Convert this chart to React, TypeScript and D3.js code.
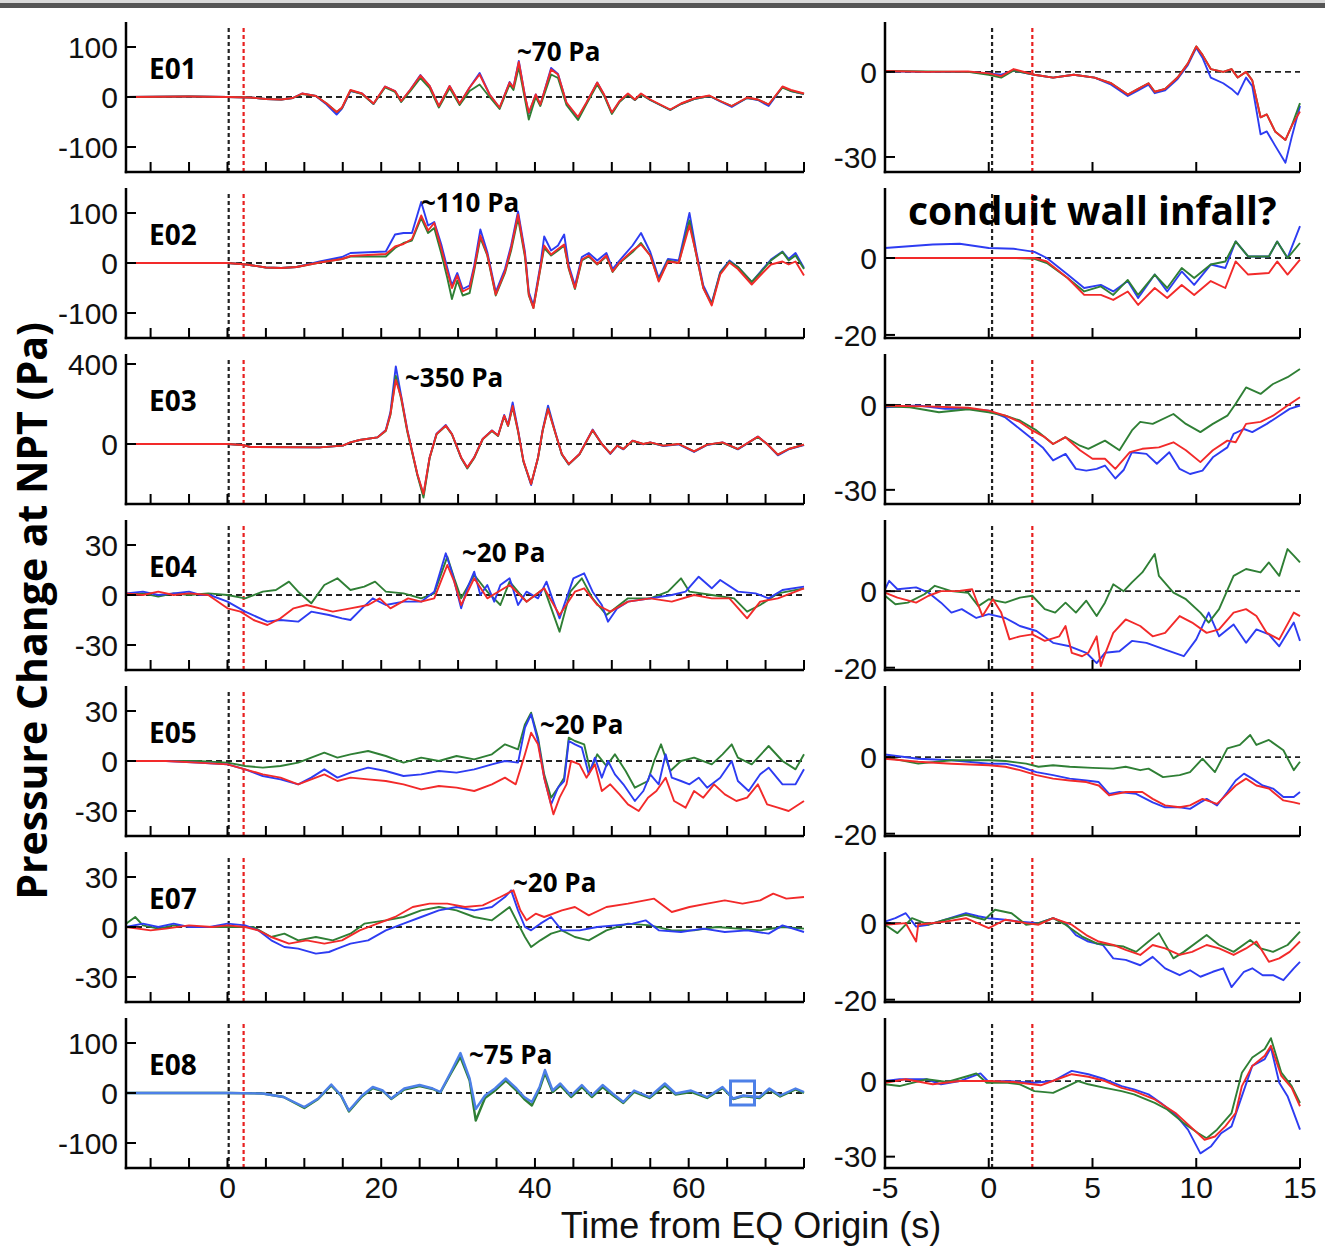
import React from "react";
import * as d3 from "d3";

type P = [number, number];
const zip = (t: number[], v: number[]): P[] => t.map((x, i) => [x, v[i]]);

// ---------------- axes / ticks ----------------
const leftXDomain: [number, number] = [-13.2, 75];
const rightXDomain: [number, number] = [-5, 15];
const leftXTicks = [-10, -5, 0, 5, 10, 15, 20, 25, 30, 35, 40, 45, 50, 55, 60, 65, 70, 75];
const leftXLabels = [0, 20, 40, 60];
const rightXTicks = [-5, 0, 5, 10, 15];
const rightXLabels = [-5, 0, 5, 10, 15];
const eqOriginT = 0.16;
const arrivalT = 2.1;

const panelNames = ["E01", "E02", "E03", "E04", "E05", "E07", "E08"];
const leftYDomains: [number, number][] = [[-150, 150], [-150, 150], [-300, 450], [-45, 45], [-45, 45], [-45, 45], [-150, 150]];
const leftYTicks = [[-100, 0, 100], [-100, 0, 100], [0, 400], [-30, 0, 30], [-30, 0, 30], [-30, 0, 30], [-100, 0, 100]];
const rightYDomains: [number, number][] = [[-35.3, 17.6], [-20.8, 18.2], [-35, 18], [-20.6, 18.6], [-20.6, 18.6], [-20.6, 18.6], [-34.5, 25]];
const rightYTicks = [[-30, 0], [-20, 0], [-30, 0], [-20, 0], [-20, 0], [-20, 0], [-30, 0]];
const peakNotes = ["~70 Pa", "~110 Pa", "~350 Pa", "~20 Pa", "~20 Pa", "~20 Pa", "~75 Pa"];

// ---------------- E01 ----------------
const e01T = [-13.2, -5, 0, 3, 5, 7, 8.5, 9.7, 11.5, 12.9, 14.2, 14.9, 16, 17.5, 19, 20.5, 21.8, 22.6, 23.8, 25.1, 26.3, 27.5, 28.9, 30.2, 31.5, 32.8, 34.1, 35.4, 36.7, 37.2, 37.9, 38.7, 39.2, 40.1, 40.7, 42.1, 43, 44.1, 45.6, 46.7, 48.1, 49, 50, 51, 52.1, 53, 53.8, 55, 57.6, 59, 60.7, 62.7, 64.1, 65.6, 67.6, 69, 70.4, 72.2, 73.3, 75];
const e01R = [0, 1, 0, -1, -4, -5, -2, 7, 2, -13, -30, -21, 14, 7, -13, 21, 12, -8, 15, 43, 22, -18, 22, -13, 19, 45, 5, -21, 29, 19, 70, 2, -31, 5, -15, 55, 45, -11, -40, -11, 29, 5, -31, -8, 7, -5, 7, -5, -25, -13, -3, 3, -8, -18, -1, -5, -15, 21, 14, 7];
const e01B = [0, 1, 0, -1, -4, -5, -2, 7, 2, -15, -35, -23, 12, 7, -14, 21, 12, -9, 15, 44, 22, -19, 22, -14, 19, 48, 5, -22, 30, 19, 72, 2, -33, 5, -16, 58, 46, -12, -42, -12, 29, 4, -32, -9, 6, -6, 6, -6, -26, -14, -4, 2, -9, -20, -2, -6, -18, 20, 12, 6];
const e01G = [0, 1, 0, -1, -4, -5, -2, 6, 2, -13, -30, -22, 13, 6, -14, 19, 10, -10, 12, 38, 18, -21, 18, -16, 12, 25, 0, -24, 25, 14, 60, -4, -45, 0, -18, 45, 38, -16, -46, -14, 25, 2, -34, -10, 5, -6, 5, -6, -26, -14, -4, 2, -8, -18, -2, -5, -15, 19, 12, 6];

// ---------------- E02 ----------------
const e02T = [-13.2, 0, 2.5, 5, 7, 9, 12, 14.9, 16, 20.6, 21.8, 22.9, 24, 25.2, 26.1, 26.9, 27.8, 28.6, 29.2, 29.9, 30.6, 31.5, 32.1, 32.9, 33.8, 34.9, 36.1, 36.9, 37.8, 38.7, 39.2, 39.8, 40.7, 41.2, 42.1, 43, 43.8, 44.4, 45.2, 46.1, 47, 48.1, 49.3, 50.1, 51, 52.7, 53.8, 55, 56.1, 57.3, 58.7, 60.1, 61, 61.9, 63, 64.1, 65.3, 66.4, 68.2, 69.3, 70.7, 72.2, 73, 73.9, 75];
const e02R = [0, 0, -3, -9, -10, -8, 1, 8, 14, 18, 33, 38, 48, 95, 65, 80, 30, -17, -50, -25, -57, -50, -10, 55, 17, -63, -17, 30, 97, 17, -63, -90, -10, 35, 17, 28, 37, -10, -50, 7, 15, -2, 15, -17, 1, 25, 37, 15, -37, 3, 0, 75, 17, -50, -85, -23, 1, -12, -43, -25, -3, 3, -3, 3, -25];
const e02B = [0, 0, -3, -9, -10, -8, 3, 12, 20, 23, 57, 60, 60, 122, 75, 82, 38, -10, -45, -20, -52, -45, -5, 67, 22, -58, -12, 35, 103, 22, -58, -85, -5, 53, 25, 35, 57, -5, -45, 12, 20, 5, 20, -12, 5, 35, 60, 22, -30, 8, 5, 100, 22, -45, -80, -18, 5, -8, -38, -18, 7, 23, 8, 20, -10];
const e02G = [0, 0, -3, -9, -10, -8, 1, 8, 13, 13, 30, 40, 45, 90, 60, 70, 20, -30, -72, -35, -65, -60, -15, 50, 15, -65, -20, 25, 90, 12, -65, -90, -12, 30, 15, 25, 35, -12, -52, 5, 13, -3, 13, -18, 0, 22, 40, 15, -35, 5, 0, 85, 15, -50, -82, -20, 3, -8, -38, -20, 5, 22, 5, 15, -12];

// ---------------- E03 ----------------
const e03T = [-13.2, 0, 2, 3, 12, 15, 16, 17.2, 19.5, 20.6, 21.2, 21.9, 22.6, 23.4, 24.1, 24.7, 25.5, 26.3, 27.2, 28.4, 29.2, 30.4, 31.2, 32.1, 33.2, 34.4, 35.2, 36, 36.5, 37.1, 37.8, 38.5, 39.5, 40.4, 41, 41.7, 42.7, 43.5, 44.4, 45.8, 47.5, 48.7, 49.8, 50.7, 51.5, 52.7, 54.1, 55, 56.7, 58.7, 60.7, 62.4, 64.4, 66.4, 69, 70.2, 71.6, 73, 75];
const e03R = [0, 0, -5, -15, -17, -8, 8, 20, 33, 67, 150, 320, 233, 67, -50, -150, -250, -67, 50, 92, 50, -67, -117, -67, 25, 67, 42, 142, 92, 190, 67, -83, -200, -67, 67, 175, 50, -50, -100, -50, 70, 0, -47, -8, -25, 17, 0, 8, -8, 0, -37, -3, 8, -25, 37, 0, -53, -25, -3];
const e03B = [0, 0, -5, -15, -17, -8, 8, 20, 33, 70, 160, 388, 240, 70, -50, -152, -255, -67, 52, 95, 50, -69, -119, -67, 25, 68, 42, 145, 95, 208, 70, -85, -205, -67, 70, 192, 52, -52, -102, -50, 72, 0, -50, -8, -27, 17, -2, 8, -10, -2, -40, -5, 8, -27, 37, 0, -57, -27, -5];
const e03G = [0, 0, -5, -15, -17, -8, 8, 20, 33, 65, 145, 340, 225, 60, -55, -155, -268, -70, 48, 90, 48, -70, -122, -70, 23, 65, 40, 138, 90, 185, 62, -88, -200, -70, 65, 178, 48, -52, -102, -52, 68, 0, -47, -8, -25, 15, 0, 6, -8, 0, -37, -3, 6, -25, 35, 0, -53, -25, -3];

// ---------------- E04 ----------------
const e04B: P[] = [[-13.2, 1], [-11, 2], [-9, 0], [-7, 1], [-5, 2], [-3.5, 0], [-2.3, 0], [0, -4], [2.3, -10], [5.2, -16], [6.9, -15], [9.2, -16], [10.9, -10], [13.2, -12], [14.9, -14], [16, -15], [17.5, -8], [18.9, -2], [20.6, -6], [22.9, -4], [25.2, -4], [26.9, 2], [28.4, 25], [29.3, 12], [30.4, -8], [31.2, 4], [32.1, 14], [32.9, 0], [33.8, 6], [34.7, -4], [35.5, 6], [36.7, 10], [37.8, -6], [38.9, 2], [40.4, -2], [41.5, 8], [42.4, -4], [43.2, -14], [44.1, -2], [45, 10], [46.4, 13], [47.5, 2], [48.7, -6], [49.5, -16], [50.7, -8], [52.1, -4], [55, -2], [57.8, 0], [59.6, 2], [61.3, 11], [63, 4], [64.1, 9], [66.4, 2], [68.7, 1], [70.4, -2], [72.2, 3], [75, 5]];
const e04G: P[] = [[-13.2, 0], [-11, 1], [-9, -1], [-7, 1], [-5, 0], [-2.5, 1], [0, 0], [2.3, -2], [4.6, 2], [6.3, 3], [8, 8], [9.2, 2], [10.9, -5], [12.6, 6], [14.3, 10], [16, 3], [17.8, 5], [19.2, 8], [20.6, 2], [22.9, 1], [25.2, -2], [26.9, 1], [28.6, 23], [29.5, 10], [30.4, -2], [32.1, 12], [33.8, 2], [35.5, -6], [36.7, 8], [38.9, -4], [41.2, 4], [43.2, -22], [44.6, 2], [46.1, 10], [47.5, -2], [49.3, -12], [52.1, -2], [55, -2], [57.3, 2], [59, 10], [60.1, 2], [63, 0], [65.9, -2], [67.6, -10], [69.3, -6], [71.6, 1], [75, 4]];
const e04R: P[] = [[-13.2, 1], [-11, 0], [-9, 2], [-7, 0], [-5, 1], [-2.5, 0], [0, -8], [1.7, -10], [3.4, -15], [5.2, -18], [6.9, -14], [8.6, -8], [10.3, -6], [12, -8], [13.7, -10], [16, -8], [18.3, -6], [19.8, -2], [21.2, -8], [23.5, -2], [25.2, -4], [26.9, -2], [28.6, 18], [29.5, 8], [30.4, -6], [32.1, 10], [33.8, -2], [36.7, 6], [38.9, -4], [41.2, 4], [43.2, -12], [45.2, 2], [46.4, 4], [48.1, -6], [49.8, -10], [52.1, -4], [55, -2], [57.8, -4], [60.7, 0], [63, -2], [65.3, -2], [67.6, -14], [69.3, -4], [71.6, -2], [75, 4]];

// ---------------- E05 ----------------
const e05B: P[] = [[-13.2, 0], [-8, 0], [-4, -1], [0, -2], [2.3, -5], [4.6, -9], [6.9, -11], [9.2, -14], [10.9, -10], [12.6, -5], [14.3, -10], [16, -7], [18.3, -4], [20.6, -6], [22.9, -9], [25.2, -8], [27.5, -6], [29.8, -7], [32.1, -5], [34.4, -2], [36.1, 0], [37.8, -1], [38.7, 20], [39.5, 28], [40.4, 12], [41.2, -10], [42.1, -26], [43, -16], [43.8, -12], [44.4, 12], [45.2, 10], [46.1, 8], [47, -8], [47.8, 2], [48.7, -10], [49.5, 0], [50.4, -8], [51.5, -14], [53, -24], [54.1, -18], [55, -8], [56.1, -14], [57, 4], [57.8, -10], [59, -12], [60.1, -14], [61.3, -10], [62.4, -16], [64.1, -10], [65.6, 0], [66.4, -12], [67.8, -18], [69.3, -8], [70.4, -4], [72.2, -14], [73.9, -14], [75, -5]];
const e05G: P[] = [[-13.2, 0], [-8, 0], [-4, 0], [0, -1], [2.3, -3], [4.6, -4], [6.9, -3], [9.2, -1], [10.9, 2], [12.6, 5], [14.3, 2], [16, 4], [18.3, 6], [20.6, 3], [22.9, -1], [25.2, 2], [27.5, 0], [29.8, 3], [32.1, 1], [34.4, 4], [36.1, 10], [37.8, 7], [38.7, 22], [39.5, 29], [40.4, 14], [41.2, -8], [42.1, -22], [43, -16], [43.8, -10], [44.4, 14], [45.2, 12], [46.4, 10], [47.2, -6], [48.1, 4], [49.3, -3], [50.4, 4], [51.8, -6], [53, -16], [54.7, -12], [55.5, 0], [56.4, 10], [57.6, -6], [59, 0], [60.7, 2], [63, -2], [64.4, 4], [65.6, 10], [66.4, 2], [68.2, -2], [70.4, 9], [72.2, 0], [73.9, -5], [75, 4]];
const e05R: P[] = [[-13.2, 0], [-8, 0], [-4, -1], [0, -2], [2.3, -5], [4.6, -8], [6.9, -10], [9.2, -14], [10.9, -11], [12.6, -8], [14.3, -12], [16, -10], [18.3, -11], [20.6, -12], [22.9, -14], [25.2, -17], [27.5, -15], [29.8, -16], [32.1, -18], [34.4, -14], [36.1, -10], [37.5, -14], [38.7, 4], [39.5, 17], [40.4, 10], [41.2, -10], [42.4, -32], [43.2, -22], [44.1, -14], [44.7, 0], [45.8, -2], [46.7, -10], [47.8, -2], [48.7, -18], [49.8, -14], [51, -20], [52.1, -26], [53.5, -30], [54.7, -22], [55.8, -18], [57, -10], [58.1, -24], [59.6, -28], [60.7, -18], [61.9, -22], [63.3, -14], [64.7, -20], [66.2, -24], [67.6, -22], [69, -14], [70.2, -26], [71.6, -28], [73, -30], [75, -24]];

// ---------------- E07 ----------------
const e07B: P[] = [[-13.2, 0], [-11, 2], [-9, 0], [-7, 2], [-5, 0], [-2.3, 0], [0, 2], [2.3, 1], [4, -2], [5.7, -8], [7.4, -12], [9.2, -13], [11.5, -16], [13.2, -15], [14.3, -13], [16, -10], [18.3, -8], [20.6, -2], [22.9, 2], [25.2, 6], [27.5, 10], [29.8, 12], [32.1, 10], [34.4, 12], [36.1, 18], [36.9, 22], [37.8, 10], [38.7, 0], [39.5, -2], [40.7, 2], [42.1, 6], [43.5, -2], [45.8, -2], [48.1, 0], [50.4, 1], [52.7, 2], [54.4, 4], [56.1, -2], [59, -3], [61.9, -1], [64.7, -3], [67.6, -2], [70.4, -4], [72.2, 1], [75, -3]];
const e07G: P[] = [[-13.2, 2], [-12, 6], [-11, 1], [-9, -1], [-7, 1], [-4, 0], [0, 0], [3.4, 0], [5.7, -6], [7.4, -4], [9.2, -8], [11.5, -6], [13.7, -8], [16, -4], [17.8, 2], [20.6, 4], [22.9, 6], [25.2, 10], [27.5, 12], [29.8, 10], [32.1, 6], [34.4, 4], [36.7, 12], [37.8, 2], [38.7, -6], [39.5, -12], [40.7, -8], [42.1, -4], [43.5, -2], [45.2, -6], [47, -8], [49.3, -2], [52.1, 2], [55, 1], [57.8, -2], [60.7, -2], [63.6, 0], [66.4, -1], [69.3, -2], [72.2, 0], [75, -1]];
const e07R: P[] = [[-13.2, 0], [-10, -2], [-8, -1], [-5, 1], [-2, 0], [0, 1], [2.3, 0], [4, -2], [5.7, -6], [8, -10], [10.3, -8], [12.6, -10], [14.9, -8], [17.2, -2], [19.5, 2], [21.8, 6], [24.1, 12], [26.3, 14], [28.6, 14], [30.9, 12], [33.2, 13], [35.5, 18], [37.2, 22], [38.1, 10], [38.9, 4], [40.1, 8], [41.2, 6], [43.5, 10], [45.2, 12], [47, 7], [49.3, 12], [52.1, 14], [55.5, 17], [57.8, 9], [60.1, 12], [62.4, 14], [64.7, 16], [67, 14], [69.3, 16], [71, 20], [72.7, 17], [75, 18]];

// ---------------- E08 ----------------
const e08T = [-13.2, 0, 4.6, 7.3, 10, 11.8, 13.5, 14.8, 15.8, 17.5, 18.9, 20.2, 21.3, 23, 25, 26.7, 27.7, 29.1, 30.3, 31.5, 32.3, 33.5, 34.8, 36.2, 37.6, 38.6, 39.6, 40.6, 41.3, 42.3, 43.3, 44.7, 46.1, 47.4, 48.8, 50.1, 51.5, 52.9, 54.9, 56.9, 58.3, 60.3, 62.4, 64.4, 65.8, 67.1, 69.2, 70.5, 71.9, 73.9, 75];
const e08B = [0, 0, -1, -8, -28, -11, 17, -5, -35, -5, 12, 5, -11, 9, 16, 9, 2, 43, 80, 29, -32, -5, 9, 29, 9, -8, -18, 12, 46, 5, 19, -5, 16, -5, 16, -1, -18, 5, -8, 19, -1, 5, -8, 12, -11, -5, -8, 9, -5, 9, 2];
const e08G = [0, 0, -1, -8, -30, -12, 15, -6, -37, -7, 10, 4, -12, 7, 14, 8, 1, 40, 72, 25, -55, -10, 5, 25, 5, -12, -25, 8, 40, 2, 15, -8, 12, -8, 12, -4, -20, 2, -10, 15, -3, 2, -10, 10, -12, -6, -10, 7, -7, 7, 0];
const e08Marker: P = [67, 0];

// ---------------- right (zoomed) panels ----------------
const r1T = [-5, -3, -1, 0, 0.6, 1.2, 2.2, 3.1, 4.1, 5.1, 5.9, 6.7, 7.2, 7.7, 8, 8.5, 9.1, 9.6, 10, 10.3, 10.7, 11.3, 11.7, 12, 12.4, 12.7, 13.1, 13.4, 13.8, 14.3, 14.6, 15];
const r1R = [0.3, 0, 0.2, -0.5, -1.5, 1, -1, -2, -1, -2, -4, -8, -6, -4, -7, -6, -2, 3, 9, 6, 1, 0, 1, -2, 0, -3, -16, -15, -21, -24, -19, -14];
const r1B = [0.2, 0, 0, -0.5, -1, 0.5, -1, -2, -1, -2, -4.5, -8.5, -6.5, -4.5, -7.5, -6.5, -2.5, 2.5, 8.5, 5, -2, -4, -6, -8, -2, -5, -22, -21, -26, -32, -23, -12];
const r1G = [0.3, 0.2, 0, -1, -2, 0.5, -1, -2, -1, -2, -4, -8, -6, -4, -7, -6, -2, 3, 9, 6, 1, 0, 1, -2, 0, -3, -16, -15, -21, -24, -19, -11];

const r2T = [-5, -2.7, -1.4, 0, 1.2, 2.2, 2.8, 3.8, 4.6, 5.4, 6, 6.7, 7.2, 8, 8.6, 9.3, 9.9, 10.7, 11.4, 11.9, 12.5, 13.5, 13.9, 14.4, 15];
const r2B = [2.6, 3.5, 3.7, 2.6, 2.4, 1.6, 0, -4.3, -7.8, -7, -8.7, -6, -10.4, -4.3, -8.7, -3.5, -7, -1.7, -2.6, 4.3, 0.4, 0.4, 4.3, 0, 8.3];
const r2G = [0, 0, 0, 0, 0, -0.2, -1.3, -5.2, -8.7, -7.4, -9.6, -5.7, -9.6, -4.3, -7.8, -2.6, -5.2, -1.7, -0.9, 4.3, 0.4, 0.4, 4.3, 0, 3.9];
const r2R = [0, 0, 0, 0, 0, 0, -0.9, -5.2, -9.6, -9.6, -10.9, -8.7, -12.2, -7.8, -10.4, -7, -9.6, -6, -7.8, -0.9, -4.3, -3.9, -0.9, -4.3, -0.4];

const r3B: P[] = [[-5, -0.8], [-3.4, -0.2], [-2.1, -1.4], [-1, -1.4], [0, -2], [0.8, -4.4], [1.5, -8.5], [2.1, -12], [2.6, -15], [3.1, -19.6], [3.7, -17.3], [4.2, -22.6], [4.7, -23.2], [5.2, -22.6], [5.6, -21.4], [6.1, -26], [6.5, -23], [6.9, -16.7], [7.6, -17.3], [8.1, -20.8], [8.7, -16.7], [9.2, -22.6], [9.7, -24.4], [10.3, -23.2], [10.8, -18.5], [11.5, -15], [11.8, -10.2], [12.3, -8.5], [12.7, -9.6], [13.4, -6.7], [14, -3.8], [14.5, -1.4], [15, -0.2]];
const r3G: P[] = [[-5, -0.5], [-3.8, -0.8], [-2.4, -2.6], [-1, -1.5], [0, -2.6], [0.8, -3.8], [1.5, -5.5], [2.3, -9], [3.1, -13.8], [3.7, -11.4], [4.4, -14.4], [4.8, -15.5], [5.6, -12.6], [6.3, -16], [6.9, -9], [7.3, -6], [7.9, -6.7], [8.9, -3.2], [9.5, -6.7], [10.2, -9.6], [10.8, -6.7], [11.5, -3.8], [11.9, 0.4], [12.4, 6.2], [13.1, 3.9], [13.7, 7.4], [14.4, 9.8], [15, 12.7]];
const r3R: P[] = [[-5, -0.3], [-3, -0.5], [-1, -1], [0, -2], [0.8, -3.8], [1.5, -6], [2.1, -9], [2.7, -11.4], [3.1, -13.8], [3.7, -11.4], [4.4, -16], [5, -19], [5.6, -19], [6.1, -22.6], [6.8, -16.7], [7.4, -15.5], [8.2, -15], [8.9, -13.2], [9.5, -16], [10.2, -20.2], [10.8, -16], [11.5, -12.6], [11.9, -13.2], [12.4, -6.7], [13.1, -6], [13.7, -3.8], [14.4, -0.2], [15, 2.7]];

const r4B: P[] = [[-5, 0.5], [-4.8, 2.7], [-4.4, 0.5], [-3.5, 1], [-2.9, -0.4], [-2.3, -3], [-1.8, -5.6], [-1.3, -4.7], [-0.6, -7], [0, -6], [0.8, -7], [1.5, -9.1], [2.3, -10.4], [3.1, -13.5], [3.9, -14.4], [4.7, -16.1], [5.2, -18.8], [5.6, -16.1], [6.3, -15.7], [6.9, -13], [7.6, -13.5], [8.5, -15.3], [9.4, -17], [10, -12.6], [10.6, -5.6], [11.1, -11.8], [11.8, -8.7], [12.4, -13.5], [12.9, -10], [13.5, -11.3], [14, -14.4], [14.7, -8.2], [15, -13]];
const r4G: P[] = [[-5, -1.2], [-4.5, -3.4], [-3.9, -3], [-3.1, -0.8], [-2.6, 1.4], [-1.8, 0], [-1, -0.4], [-0.5, -3.9], [0, -2.1], [0.8, -3], [1.5, -1.7], [2.1, -1.2], [2.7, -4.7], [3.2, -5.6], [3.7, -3], [4.2, -5.6], [4.7, -2.5], [5.2, -6.5], [5.6, -3], [6, 1.8], [6.5, 0], [6.9, 2.3], [7.4, 4.9], [8, 9.7], [8.2, 4], [8.9, -0.4], [9.5, -2.1], [10.2, -5.6], [10.6, -8.2], [11.1, -4.7], [11.8, 4], [12.4, 5.8], [13.1, 4.9], [13.5, 7.5], [14, 4], [14.4, 11], [14.7, 9.3], [15, 7.5]];
const r4R: P[] = [[-5, -0.4], [-4.4, -1.7], [-3.5, -3], [-2.9, -1.2], [-2.3, 0], [-1.5, 0], [-0.8, 0.5], [-0.3, -6.5], [0.2, -2.1], [0.6, -5.6], [1, -12.6], [1.5, -11.8], [2.1, -11.3], [2.7, -13], [3.4, -11.8], [3.7, -9.1], [4, -16.1], [4.5, -17], [4.8, -16.1], [5.2, -11.8], [5.4, -19.6], [5.5, -17.9], [6, -10.9], [6.6, -7.4], [7.3, -9.1], [7.9, -11.8], [8.5, -10.9], [9.2, -6.5], [9.8, -8.2], [10.5, -10.9], [11.1, -10], [11.8, -5.6], [12.4, -4.7], [12.9, -6.5], [13.4, -10.9], [14, -12.6], [14.7, -5.6], [15, -6.5]];

const r5B: P[] = [[-5, 0.7], [-3.4, -0.4], [-1.8, -0.8], [0, -1.7], [0.8, -1.7], [1.5, -2.5], [2.3, -3.9], [3.1, -4.7], [3.9, -5.6], [4.7, -6.1], [5.3, -6.5], [5.8, -9.6], [6.3, -9.1], [7.1, -9.6], [7.9, -11.8], [8.5, -13.1], [9.2, -13.1], [9.7, -13.5], [10.2, -11.8], [10.5, -10.9], [11, -12.6], [11.5, -9.1], [11.9, -6.1], [12.3, -4.3], [12.7, -5.6], [13.2, -7.4], [13.7, -8.2], [14.2, -10.4], [14.7, -10.4], [15, -9.1]];
const r5G: P[] = [[-5, 0], [-3.4, -1.7], [-1.8, -0.8], [0, -0.8], [0.8, -1], [1.8, -1.7], [2.4, -2.5], [3.1, -2.1], [3.9, -2.5], [5, -2.8], [6, -3], [6.6, -2.5], [7.3, -3.4], [7.7, -3], [8.4, -5.2], [9.2, -4.7], [9.7, -3.9], [10.3, -0.4], [10.9, -3.9], [11.5, 2.3], [12.1, 3.2], [12.6, 5.8], [12.9, 3.2], [13.5, 4.5], [14.2, 1.8], [14.7, -3.4], [15, -1.2]];
const r5R: P[] = [[-5, -0.4], [-3.4, -1.2], [-1.8, -1.7], [0, -2.1], [0.8, -2.5], [1.5, -3.4], [2.3, -4.7], [3.1, -5.6], [3.9, -6.1], [4.7, -6.5], [5.3, -7.4], [5.8, -10], [6.6, -9.1], [7.4, -9.1], [7.9, -10.9], [8.5, -12.6], [9.2, -13.1], [9.7, -12.6], [10.3, -10.9], [11, -12.2], [11.5, -9.6], [11.9, -7.4], [12.4, -5.6], [12.9, -7.4], [13.5, -8.2], [14.2, -11.3], [14.7, -11.8], [15, -12.2]];

const r6B: P[] = [[-5, 0.4], [-4.5, 1.3], [-4, 2.6], [-3.5, -0.9], [-2.9, -0.4], [-2.1, 0.9], [-1.1, 2.6], [-0.5, 1.8], [0, 1.3], [0.8, 0.9], [1.5, 0.4], [2.4, 0], [3.1, 1.3], [3.7, 0], [4.2, -3.1], [4.8, -4.8], [5.5, -5.7], [6, -9.2], [6.6, -9.6], [7.3, -11], [7.9, -8.8], [8.5, -11.8], [9.2, -13.6], [9.7, -12.3], [10.2, -14], [10.8, -12.7], [11.3, -11.8], [11.7, -16.7], [12.3, -12.7], [12.7, -11.8], [13.2, -13.6], [13.7, -13.6], [14.2, -14.9], [14.7, -11.8], [15, -10.1]];
const r6G: P[] = [[-5, -0.4], [-4.4, -2.6], [-3.7, 1.3], [-2.9, -0.4], [-2.1, 0.9], [-1.1, 2.2], [-0.2, 0.9], [0.3, 3.5], [1.1, 2.6], [1.8, -0.4], [2.4, 0], [3.1, 1.3], [3.7, -0.4], [4.5, -3.5], [5.2, -5.3], [5.8, -5.7], [6.5, -6.1], [7.1, -7.5], [7.7, -4.8], [8.2, -2.6], [8.9, -9.2], [9.4, -7.5], [10.5, -3.1], [11.1, -5.7], [11.8, -7.5], [12.6, -4.4], [13.1, -6.6], [13.7, -7.5], [14.4, -5.7], [15, -2.2]];
const r6R: P[] = [[-5, -0.4], [-4, 0], [-3.5, -4.8], [-3.4, -0.4], [-2.1, 0.4], [-1.1, 1.3], [0, -1.3], [0.8, 0.9], [1.8, 0], [2.4, -0.4], [3.1, 1.3], [4, -0.4], [4.7, -3.1], [5.3, -4.8], [6, -5.7], [6.6, -7], [7.3, -8.3], [7.9, -5.7], [8.5, -6.6], [9.2, -8.3], [9.8, -7.5], [10.5, -5.7], [11.1, -6.6], [11.8, -8.3], [12.4, -6.6], [12.9, -4.8], [13.5, -10.1], [14, -9.2], [14.5, -7.5], [15, -4.8]];

const r7B: P[] = [[-5, 0], [-4.3, 0.7], [-3, 0.7], [-2.3, -1.3], [-1.4, 0], [-0.4, 3], [0, -0.4], [0.9, 0], [2.2, -0.7], [3.1, 0], [4, 4], [4.8, 2.7], [5.6, 0.7], [6.4, -2], [7, -3.3], [7.7, -5.3], [8.3, -8.7], [9, -13.3], [9.6, -19.3], [10.2, -28.7], [10.7, -26], [11.2, -20.7], [11.7, -18], [12.2, -6], [12.7, 6], [13.3, 8.7], [13.6, 13.3], [14, -0.7], [14.4, -6], [15, -19.3]];
const r7G: P[] = [[-5, -1.3], [-4.3, -2], [-3, 0.7], [-2, -0.4], [-1, 2], [-0.6, 3], [-0.1, -0.7], [0.9, -0.7], [1.5, -1.3], [2.2, -4], [3.1, -4.7], [3.8, -2], [4.3, 0], [4.8, -1.3], [5.6, -2.7], [6.4, -4], [7, -5.3], [8, -8.7], [8.6, -11.3], [9.4, -16.7], [10.1, -20.7], [10.5, -22.7], [11, -19.3], [11.7, -12.7], [12.2, 3.3], [12.7, 9.3], [13.3, 12.7], [13.6, 17], [14.1, 3.3], [14.6, -2], [15, -8.7]];
const r7R: P[] = [[-5, -0.7], [-4, 0.7], [-2.7, -1.3], [-1.4, 0], [0, 0], [1.2, -0.4], [2.5, -1.7], [3.3, 0.7], [4, 2.7], [4.8, 1.7], [5.6, 0], [6.4, -2.7], [7, -4], [8, -7.3], [9, -12.7], [9.8, -18.7], [10.4, -23.3], [10.9, -22], [11.4, -18], [11.9, -12.7], [12.2, -2], [12.7, 6], [13.3, 10], [13.6, 14], [14.1, 2], [14.6, -2.7], [15, -10]];

// ---------------- layout & style ----------------
const W = 1325;
const H = 1252;
const LX0 = 126, LX1 = 804, RX0 = 885, RX1 = 1300;
const TOP0 = 22, PITCH = 166, PH = 150;
const FONT = "'Open Sans', 'DejaVu Sans', sans-serif";
const TICKFONT = "'Liberation Sans', Arial, sans-serif";
const BLUE = "#2d3cf2";
const GREEN = "#2f7f35";
const RED = "#f22a2a";
const LIGHTBLUE = "#4d80e8";
const LW = 1.9;

const xL = d3.scaleLinear().domain(leftXDomain).range([LX0, LX1]);
const xR = d3.scaleLinear().domain(rightXDomain).range([RX0, RX1]);

type Series = { data: P[]; color: string; width: number };

const leftSeries: Series[][] = [
  [
    { data: zip(e01T, e01B), color: BLUE, width: LW },
    { data: zip(e01T, e01G), color: GREEN, width: LW },
    { data: zip(e01T, e01R), color: RED, width: LW },
  ],
  [
    { data: zip(e02T, e02B), color: BLUE, width: LW },
    { data: zip(e02T, e02G), color: GREEN, width: LW },
    { data: zip(e02T, e02R), color: RED, width: LW },
  ],
  [
    { data: zip(e03T, e03B), color: BLUE, width: LW },
    { data: zip(e03T, e03G), color: GREEN, width: LW },
    { data: zip(e03T, e03R), color: RED, width: LW },
  ],
  [
    { data: e04G, color: GREEN, width: LW },
    { data: e04B, color: BLUE, width: LW },
    { data: e04R, color: RED, width: LW },
  ],
  [
    { data: e05G, color: GREEN, width: LW },
    { data: e05B, color: BLUE, width: LW },
    { data: e05R, color: RED, width: LW },
  ],
  [
    { data: e07G, color: GREEN, width: LW },
    { data: e07B, color: BLUE, width: LW },
    { data: e07R, color: RED, width: LW },
  ],
  [
    { data: zip(e08T, e08G), color: GREEN, width: 2.4 },
    { data: zip(e08T, e08B), color: LIGHTBLUE, width: 2.4 },
  ],
];

const rightSeries: Series[][] = [
  [
    { data: zip(r1T, r1B), color: BLUE, width: LW },
    { data: zip(r1T, r1G), color: GREEN, width: LW },
    { data: zip(r1T, r1R), color: RED, width: LW },
  ],
  [
    { data: zip(r2T, r2B), color: BLUE, width: LW },
    { data: zip(r2T, r2G), color: GREEN, width: LW },
    { data: zip(r2T, r2R), color: RED, width: LW },
  ],
  [
    { data: r3B, color: BLUE, width: LW },
    { data: r3G, color: GREEN, width: LW },
    { data: r3R, color: RED, width: LW },
  ],
  [
    { data: r4B, color: BLUE, width: LW },
    { data: r4G, color: GREEN, width: LW },
    { data: r4R, color: RED, width: LW },
  ],
  [
    { data: r5B, color: BLUE, width: LW },
    { data: r5G, color: GREEN, width: LW },
    { data: r5R, color: RED, width: LW },
  ],
  [
    { data: r6B, color: BLUE, width: LW },
    { data: r6G, color: GREEN, width: LW },
    { data: r6R, color: RED, width: LW },
  ],
  [
    { data: r7B, color: BLUE, width: LW },
    { data: r7G, color: GREEN, width: LW },
    { data: r7R, color: RED, width: LW },
  ],
];

// annotation positions (layout only)
const noteX = [517, 421, 405, 462, 540, 513, 469];
const noteDy = [39, 24, 33, 42, 48, 40, 46];

type PanelProps = {
  x: d3.ScaleLinear<number, number>;
  top: number;
  yDomain: [number, number];
  yTicks: number[];
  series: Series[];
  xTicks: number[];
  xLabels: number[] | null;
  labelX: number;
};

function Panel({ x, top, yDomain, yTicks, series, xTicks, xLabels, labelX }: PanelProps) {
  const y = d3.scaleLinear().domain(yDomain).range([top + PH, top]);
  const line = d3
    .line<P>()
    .x((d) => x(d[0]))
    .y((d) => y(d[1]));
  const [x0, x1] = x.range();
  const bottom = top + PH;
  return (
    <g>
      <line x1={x0} x2={x1} y1={y(0)} y2={y(0)} stroke="#222" strokeWidth={1.8} strokeDasharray="6,4" />
      <line x1={x(eqOriginT)} x2={x(eqOriginT)} y1={top + 6} y2={bottom} stroke="#222" strokeWidth={2.2} strokeDasharray="4,3" />
      <line x1={x(arrivalT)} x2={x(arrivalT)} y1={top + 6} y2={bottom} stroke="#e82020" strokeWidth={2.2} strokeDasharray="4,3" />
      {series.map((s, i) => (
        <path key={i} d={line(s.data) || ""} fill="none" stroke={s.color} strokeWidth={s.width} strokeLinejoin="round" />
      ))}
      <line x1={x0} x2={x0} y1={top} y2={bottom + 1.25} stroke="#000" strokeWidth={2.5} />
      <line x1={x0 - 1.25} x2={x1} y1={bottom} y2={bottom} stroke="#000" strokeWidth={2.5} />
      {yTicks.map((v) => (
        <g key={"y" + v}>
          <line x1={x0} x2={x0 + 10} y1={y(v)} y2={y(v)} stroke="#000" strokeWidth={2} />
          <text x={labelX} y={y(v)} dy="0.36em" textAnchor="end" fontFamily={TICKFONT} fontSize={30} fill="#111">
            {v}
          </text>
        </g>
      ))}
      {xTicks.map((t) => (
        <line key={"x" + t} x1={x(t)} x2={x(t)} y1={bottom} y2={bottom - 10} stroke="#000" strokeWidth={2} />
      ))}
      {xLabels &&
        xLabels.map((t) => (
          <text key={"xl" + t} x={x(t)} y={bottom + 30} textAnchor="middle" fontFamily={TICKFONT} fontSize={30} fill="#111">
            {t}
          </text>
        ))}
    </g>
  );
}

export default function App() {
  const last = panelNames.length - 1;
  const [mx, mv] = e08Marker;
  const e08Y = d3.scaleLinear().domain(leftYDomains[last]).range([TOP0 + last * PITCH + PH, TOP0 + last * PITCH]);
  return (
    <svg
      width={W}
      height={H}
      viewBox={`0 0 ${W} ${H}`}
      style={{ position: "absolute", left: 0, top: 0, background: "#fff" }}
    >
      <rect x={0} y={0} width={W} height={H} fill="#fff" />
      <rect x={0} y={0} width={W} height={3} fill="#d9d9d9" />
      <rect x={0} y={3} width={W} height={5} fill="#555" />
      {panelNames.map((name, i) => {
        const top = TOP0 + i * PITCH;
        const isLast = i === last;
        return (
          <g key={name}>
            <Panel
              x={xL}
              top={top}
              yDomain={leftYDomains[i]}
              yTicks={leftYTicks[i]}
              series={leftSeries[i]}
              xTicks={leftXTicks}
              xLabels={isLast ? leftXLabels : null}
              labelX={118}
            />
            <Panel
              x={xR}
              top={top}
              yDomain={rightYDomains[i]}
              yTicks={rightYTicks[i]}
              series={rightSeries[i]}
              xTicks={rightXTicks}
              xLabels={isLast ? rightXLabels : null}
              labelX={877}
            />
            <text x={149} y={top + 57} fontFamily={FONT} fontWeight={700} fontSize={28} fill="#000">
              {name}
            </text>
            <text x={noteX[i]} y={top + noteDy[i]} fontFamily={FONT} fontWeight={700} fontSize={26} fill="#000">
              {peakNotes[i]}
            </text>
          </g>
        );
      })}
      <rect
        x={xL(mx) - 12}
        y={e08Y(mv) - 12}
        width={24}
        height={24}
        fill="none"
        stroke={LIGHTBLUE}
        strokeWidth={3}
      />
      <text x={908} y={225} fontFamily={FONT} fontWeight={700} fontSize={39} fill="#000">
        conduit wall infall?
      </text>
      <text
        transform="translate(47,611) rotate(-90)"
        textAnchor="middle"
        fontFamily={FONT}
        fontWeight={700}
        fontSize={41}
        fill="#000"
      >
        Pressure Change at NPT (Pa)
      </text>
      <text x={751} y={1238} textAnchor="middle" fontFamily={TICKFONT} fontSize={36} fill="#111">
        Time from EQ Origin (s)
      </text>
    </svg>
  );
}
